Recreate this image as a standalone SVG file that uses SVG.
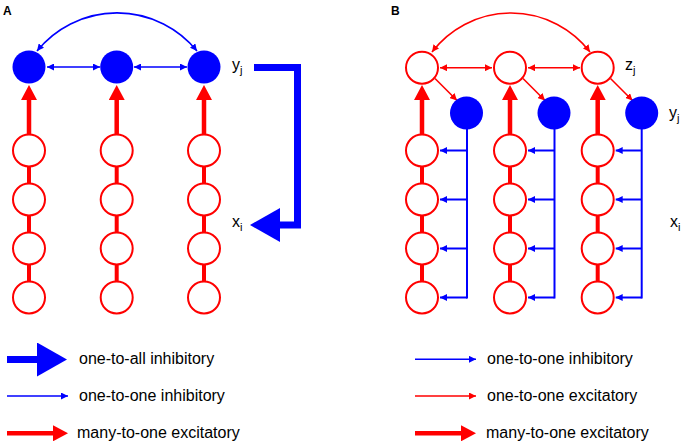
<svg xmlns="http://www.w3.org/2000/svg" width="682" height="445" viewBox="0 0 682 445">
<style>
  text { font-family: "Liberation Sans", Arial, sans-serif; fill: #000; }
  .lbl { font-size: 16px; }
  .sub { font-size: 11px; }
  .panel { font-size: 12px; font-weight: bold; }
  .leg { font-size: 16px; }
  .rn { fill: #fff; stroke: #ff0000; stroke-width: 2; }
  .bn { fill: #0000ff; stroke: none; }
  .chain { stroke: #ff0000; stroke-width: 4; fill: none; }
  .many { stroke: #ff0000; stroke-width: 4.5; fill: none; marker-end: url(#redHead); }
  .binh { stroke: #0000ff; stroke-width: 1.6; fill: none; marker-start: url(#blueTip); marker-end: url(#blueTip); }
  .bexc { stroke: #ff0000; stroke-width: 1.6; fill: none; marker-start: url(#redTip); marker-end: url(#redTip); }
  .exc1 { stroke: #ff0000; stroke-width: 1.6; fill: none; marker-end: url(#redTip); }
  .inh1 { stroke: #0000ff; stroke-width: 2; fill: none; marker-end: url(#blueTip); }
  .fb { stroke: #0000ff; stroke-width: 2; fill: none; }
  .all { stroke: #0000ff; stroke-width: 7; fill: none; stroke-linejoin: miter; marker-end: url(#blueBig); }
</style>
<defs>
  <marker id="blueTip" viewBox="0 0 7 7" refX="7" refY="3.5" markerWidth="7" markerHeight="7" markerUnits="userSpaceOnUse" orient="auto-start-reverse">
    <path d="M0,0 L7,3.5 L0,7 z" fill="#0000ff"/>
  </marker>
  <marker id="redTip" viewBox="0 0 7 7" refX="7" refY="3.5" markerWidth="7" markerHeight="7" markerUnits="userSpaceOnUse" orient="auto-start-reverse">
    <path d="M0,0 L7,3.5 L0,7 z" fill="#ff0000"/>
  </marker>
  <marker id="redHead" viewBox="0 0 15 16" refX="0" refY="8" markerWidth="15" markerHeight="16" markerUnits="userSpaceOnUse" orient="auto">
    <path d="M0,0 L15,8 L0,16 z" fill="#ff0000"/>
  </marker>
  <marker id="blueBig" viewBox="0 0 30 34" refX="0" refY="17" markerWidth="30" markerHeight="34" markerUnits="userSpaceOnUse" orient="auto">
    <path d="M0,0 L30,17 L0,34 z" fill="#0000ff"/>
  </marker>
</defs>
<rect width="682" height="445" fill="#fff"/>

<text class="panel" x="3" y="15">A</text>
<text class="panel" x="391" y="15">B</text>

<g id="connectors">
  <!-- Panel A -->
  <line class="chain" x1="29" y1="150.5" x2="29" y2="297.5"/>
  <line class="chain" x1="116.7" y1="150.5" x2="116.7" y2="297.5"/>
  <line class="chain" x1="204" y1="150.5" x2="204" y2="297.5"/>
  <line class="many" x1="29" y1="134.5" x2="29" y2="100"/>
  <line class="many" x1="116.7" y1="134.5" x2="116.7" y2="100"/>
  <line class="many" x1="204" y1="134.5" x2="204" y2="100"/>
  <line class="binh" x1="47" y1="67" x2="100" y2="67"/>
  <line class="binh" x1="134" y1="67" x2="187" y2="67"/>
  <path class="binh" d="M37,51 A103,103 0 0 1 197,51"/>
  <polyline class="all" points="254,67.5 297.5,67.5 297.5,225 280,225"/>

  <!-- Panel B -->
  <line class="chain" x1="422" y1="150.5" x2="422" y2="297.5"/>
  <line class="chain" x1="510" y1="150.5" x2="510" y2="297.5"/>
  <line class="chain" x1="597.7" y1="150.5" x2="597.7" y2="297.5"/>
  <line class="many" x1="422" y1="134.5" x2="422" y2="100"/>
  <line class="many" x1="510" y1="134.5" x2="510" y2="100"/>
  <line class="many" x1="597.7" y1="134.5" x2="597.7" y2="100"/>
  <line class="bexc" x1="440" y1="67.7" x2="492" y2="67.7"/>
  <line class="bexc" x1="528" y1="67.7" x2="580" y2="67.7"/>
  <path class="bexc" d="M432,52 A99.5,99.5 0 0 1 590,52"/>
  <line class="exc1" x1="435" y1="78.5" x2="457" y2="100.5"/>
  <line class="exc1" x1="523" y1="78.5" x2="545" y2="100.5"/>
  <line class="exc1" x1="610.5" y1="78.5" x2="632.5" y2="100.5"/>

  <line class="fb" x1="467" y1="129" x2="467" y2="298.5"/>
  <line class="inh1" x1="467" y1="150.5" x2="440" y2="150.5"/>
  <line class="inh1" x1="467" y1="199.5" x2="440" y2="199.5"/>
  <line class="inh1" x1="467" y1="248.5" x2="440" y2="248.5"/>
  <line class="inh1" x1="467" y1="297.5" x2="440" y2="297.5"/>

  <line class="fb" x1="554.5" y1="129" x2="554.5" y2="298.5"/>
  <line class="inh1" x1="554.5" y1="150.5" x2="528" y2="150.5"/>
  <line class="inh1" x1="554.5" y1="199.5" x2="528" y2="199.5"/>
  <line class="inh1" x1="554.5" y1="248.5" x2="528" y2="248.5"/>
  <line class="inh1" x1="554.5" y1="297.5" x2="528" y2="297.5"/>

  <line class="fb" x1="641.7" y1="129" x2="641.7" y2="298.5"/>
  <line class="inh1" x1="641.7" y1="150.5" x2="615.7" y2="150.5"/>
  <line class="inh1" x1="641.7" y1="199.5" x2="615.7" y2="199.5"/>
  <line class="inh1" x1="641.7" y1="248.5" x2="615.7" y2="248.5"/>
  <line class="inh1" x1="641.7" y1="297.5" x2="615.7" y2="297.5"/>
</g>

<!-- Panel A nodes -->
<g id="A_y1"><circle class="bn" cx="29" cy="67" r="16.5"/></g>
<g id="A_y2"><circle class="bn" cx="116.7" cy="67" r="16.5"/></g>
<g id="A_y3"><circle class="bn" cx="204" cy="67" r="16.5"/></g>
<g id="A_x1">
  <circle class="rn" cx="29" cy="150.5" r="16"/><circle class="rn" cx="29" cy="199.5" r="16"/>
  <circle class="rn" cx="29" cy="248.5" r="16"/><circle class="rn" cx="29" cy="297.5" r="16"/>
</g>
<g id="A_x2">
  <circle class="rn" cx="116.7" cy="150.5" r="16"/><circle class="rn" cx="116.7" cy="199.5" r="16"/>
  <circle class="rn" cx="116.7" cy="248.5" r="16"/><circle class="rn" cx="116.7" cy="297.5" r="16"/>
</g>
<g id="A_x3">
  <circle class="rn" cx="204" cy="150.5" r="16"/><circle class="rn" cx="204" cy="199.5" r="16"/>
  <circle class="rn" cx="204" cy="248.5" r="16"/><circle class="rn" cx="204" cy="297.5" r="16"/>
</g>

<!-- Panel B nodes -->
<g id="B_z1"><circle class="rn" cx="422" cy="67.7" r="16"/></g>
<g id="B_z2"><circle class="rn" cx="510" cy="67.7" r="16"/></g>
<g id="B_z3"><circle class="rn" cx="597.7" cy="67.7" r="16"/></g>
<g id="B_y1"><circle class="bn" cx="466.5" cy="113" r="16.5"/></g>
<g id="B_y2"><circle class="bn" cx="554" cy="113" r="16.5"/></g>
<g id="B_y3"><circle class="bn" cx="641.7" cy="113" r="16.5"/></g>
<g id="B_x1">
  <circle class="rn" cx="422" cy="150.5" r="16"/><circle class="rn" cx="422" cy="199.5" r="16"/>
  <circle class="rn" cx="422" cy="248.5" r="16"/><circle class="rn" cx="422" cy="297.5" r="16"/>
</g>
<g id="B_x2">
  <circle class="rn" cx="510" cy="150.5" r="16"/><circle class="rn" cx="510" cy="199.5" r="16"/>
  <circle class="rn" cx="510" cy="248.5" r="16"/><circle class="rn" cx="510" cy="297.5" r="16"/>
</g>
<g id="B_x3">
  <circle class="rn" cx="597.7" cy="150.5" r="16"/><circle class="rn" cx="597.7" cy="199.5" r="16"/>
  <circle class="rn" cx="597.7" cy="248.5" r="16"/><circle class="rn" cx="597.7" cy="297.5" r="16"/>
</g>

<!-- Labels -->
<g id="labels">
  <text class="lbl" x="232" y="69.5">y<tspan class="sub" dy="4">j</tspan></text>
  <text class="lbl" x="232" y="227">x<tspan class="sub" dy="4">i</tspan></text>
  <text class="lbl" x="625" y="69.5">z<tspan class="sub" dy="4">j</tspan></text>
  <text class="lbl" x="669" y="118">y<tspan class="sub" dy="4">j</tspan></text>
  <text class="lbl" x="670" y="227">x<tspan class="sub" dy="4">i</tspan></text>
</g>

<!-- Legend A -->
<g id="legendA">
  <line class="all" x1="7" y1="359.5" x2="37" y2="359.5"/>
  <text class="leg" x="79" y="364">one-to-all inhibitory</text>
  <line class="inh1" x1="7" y1="396" x2="68" y2="396" style="stroke-width:1.6"/>
  <text class="leg" x="79" y="400.5">one-to-one inhibitory</text>
  <line class="many" x1="7" y1="433.3" x2="53" y2="433.3"/>
  <text class="leg" x="77" y="437.5">many-to-one excitatory</text>
</g>

<!-- Legend B -->
<g id="legendB">
  <line class="inh1" x1="415" y1="359.3" x2="476" y2="359.3" style="stroke-width:1.6"/>
  <text class="leg" x="487" y="363.5">one-to-one inhibitory</text>
  <line class="exc1" x1="415" y1="396" x2="476" y2="396"/>
  <text class="leg" x="487" y="400.5">one-to-one excitatory</text>
  <line class="many" x1="415" y1="433.3" x2="461" y2="433.3"/>
  <text class="leg" x="486" y="437.5">many-to-one excitatory</text>
</g>
</svg>
